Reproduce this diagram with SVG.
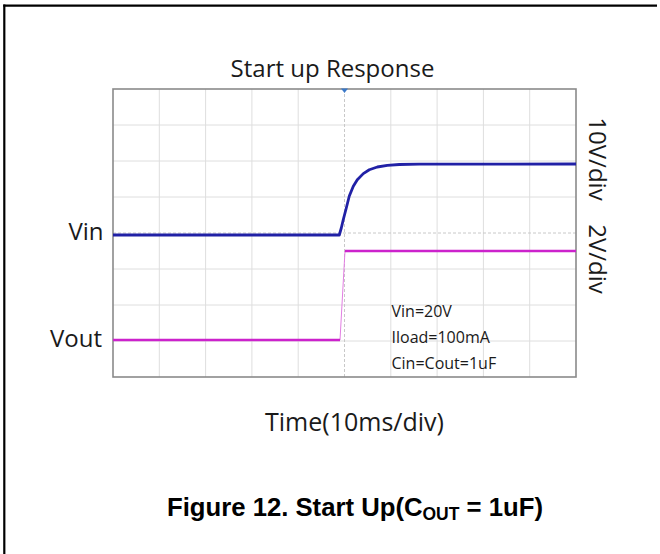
<svg xmlns="http://www.w3.org/2000/svg" width="660" height="554" viewBox="0 0 660 554">
<style>
.lbl{font-family:"Open Sans","Noto Sans","DejaVu Sans",sans-serif;font-size:24px;fill:#1a1a1a}
.ann{font-family:"Open Sans","Noto Sans","DejaVu Sans",sans-serif;font-size:16px;fill:#1a1a1a}
.grid{stroke:#dedede;stroke-width:1;fill:none}
.ctr{stroke:#c8c8c8;stroke-width:1;stroke-dasharray:3 2;fill:none}
.cap{font-family:"Liberation Sans",Arial,sans-serif;font-weight:bold;font-size:25.7px;fill:#000}
</style>
<rect x="0" y="0" width="660" height="554" fill="#fff"/>
<g id="frame" stroke="#000" stroke-width="2.2" fill="none">
<line x1="3.3" y1="5.7" x2="657" y2="5.7"/>
<line x1="4.3" y1="4.6" x2="4.3" y2="554"/>
</g>
<text id="title" class="lbl" x="332.5" y="77" text-anchor="middle">Start up Response</text>
<g id="plot">
<g id="grid" class="grid">
<path d="M159.3 89V377M205.6 89V377M251.9 89V377M298.2 89V377M390.8 89V377M437.1 89V377M483.4 89V377M529.7 89V377"/>
<path d="M113 125H576M113 161H576M113 197H576M113 269H576M113 305H576M113 341H576"/>
</g>
<path class="ctr" d="M344.5 89V377M113 233H576"/>
<rect x="113" y="89" width="463" height="288" fill="none" stroke="#8a8a8a" stroke-width="1.6"/>
<path id="trigger" d="M341 88.5L348 88.5L344.5 93Z" fill="#3a78c8"/>
</g>
<g id="connectors">
<path id="vout-step" d="M340 340L345 251" stroke="#e27ee2" stroke-width="1" fill="none"/>
<path id="vout" d="M113 340H340M345 251H576" stroke="#cc22cc" stroke-width="2.6" fill="none"/>
<path id="vin" d="M113 235H339.3L341.3 228L343.3 219.5L346.3 208L349.3 196L353.3 186.3L357.3 179.8L363.3 173.6L369.3 169.8L377.3 167L387.3 165.3L399.3 164.5L419.3 164.1L576 164" stroke="#2121a6" stroke-width="2.8" fill="none" stroke-linejoin="round"/>
</g>
<g id="labels">
<text class="lbl" x="103.5" y="240" text-anchor="end">Vin</text>
<text class="lbl" x="102" y="347" text-anchor="end">Vout</text>
<text class="lbl" transform="translate(589,159) rotate(90)" text-anchor="middle">10V/div</text>
<text class="lbl" transform="translate(589,259) rotate(90)" text-anchor="middle">2V/div</text>
<text class="ann" x="391.5" y="317">Vin=20V</text>
<text class="ann" x="391.5" y="343">Iload=100mA</text>
<text class="ann" x="391.5" y="369">Cin=Cout=1uF</text>
<text class="lbl" x="354.5" y="431" text-anchor="middle" style="font-size:25px">Time(10ms/div)</text>
</g>
<text id="caption" class="cap" x="167" y="516">Figure 12. Start Up(C<tspan font-size="17.5" dy="4">OUT</tspan><tspan dy="-4"> = 1uF)</tspan></text>
</svg>
